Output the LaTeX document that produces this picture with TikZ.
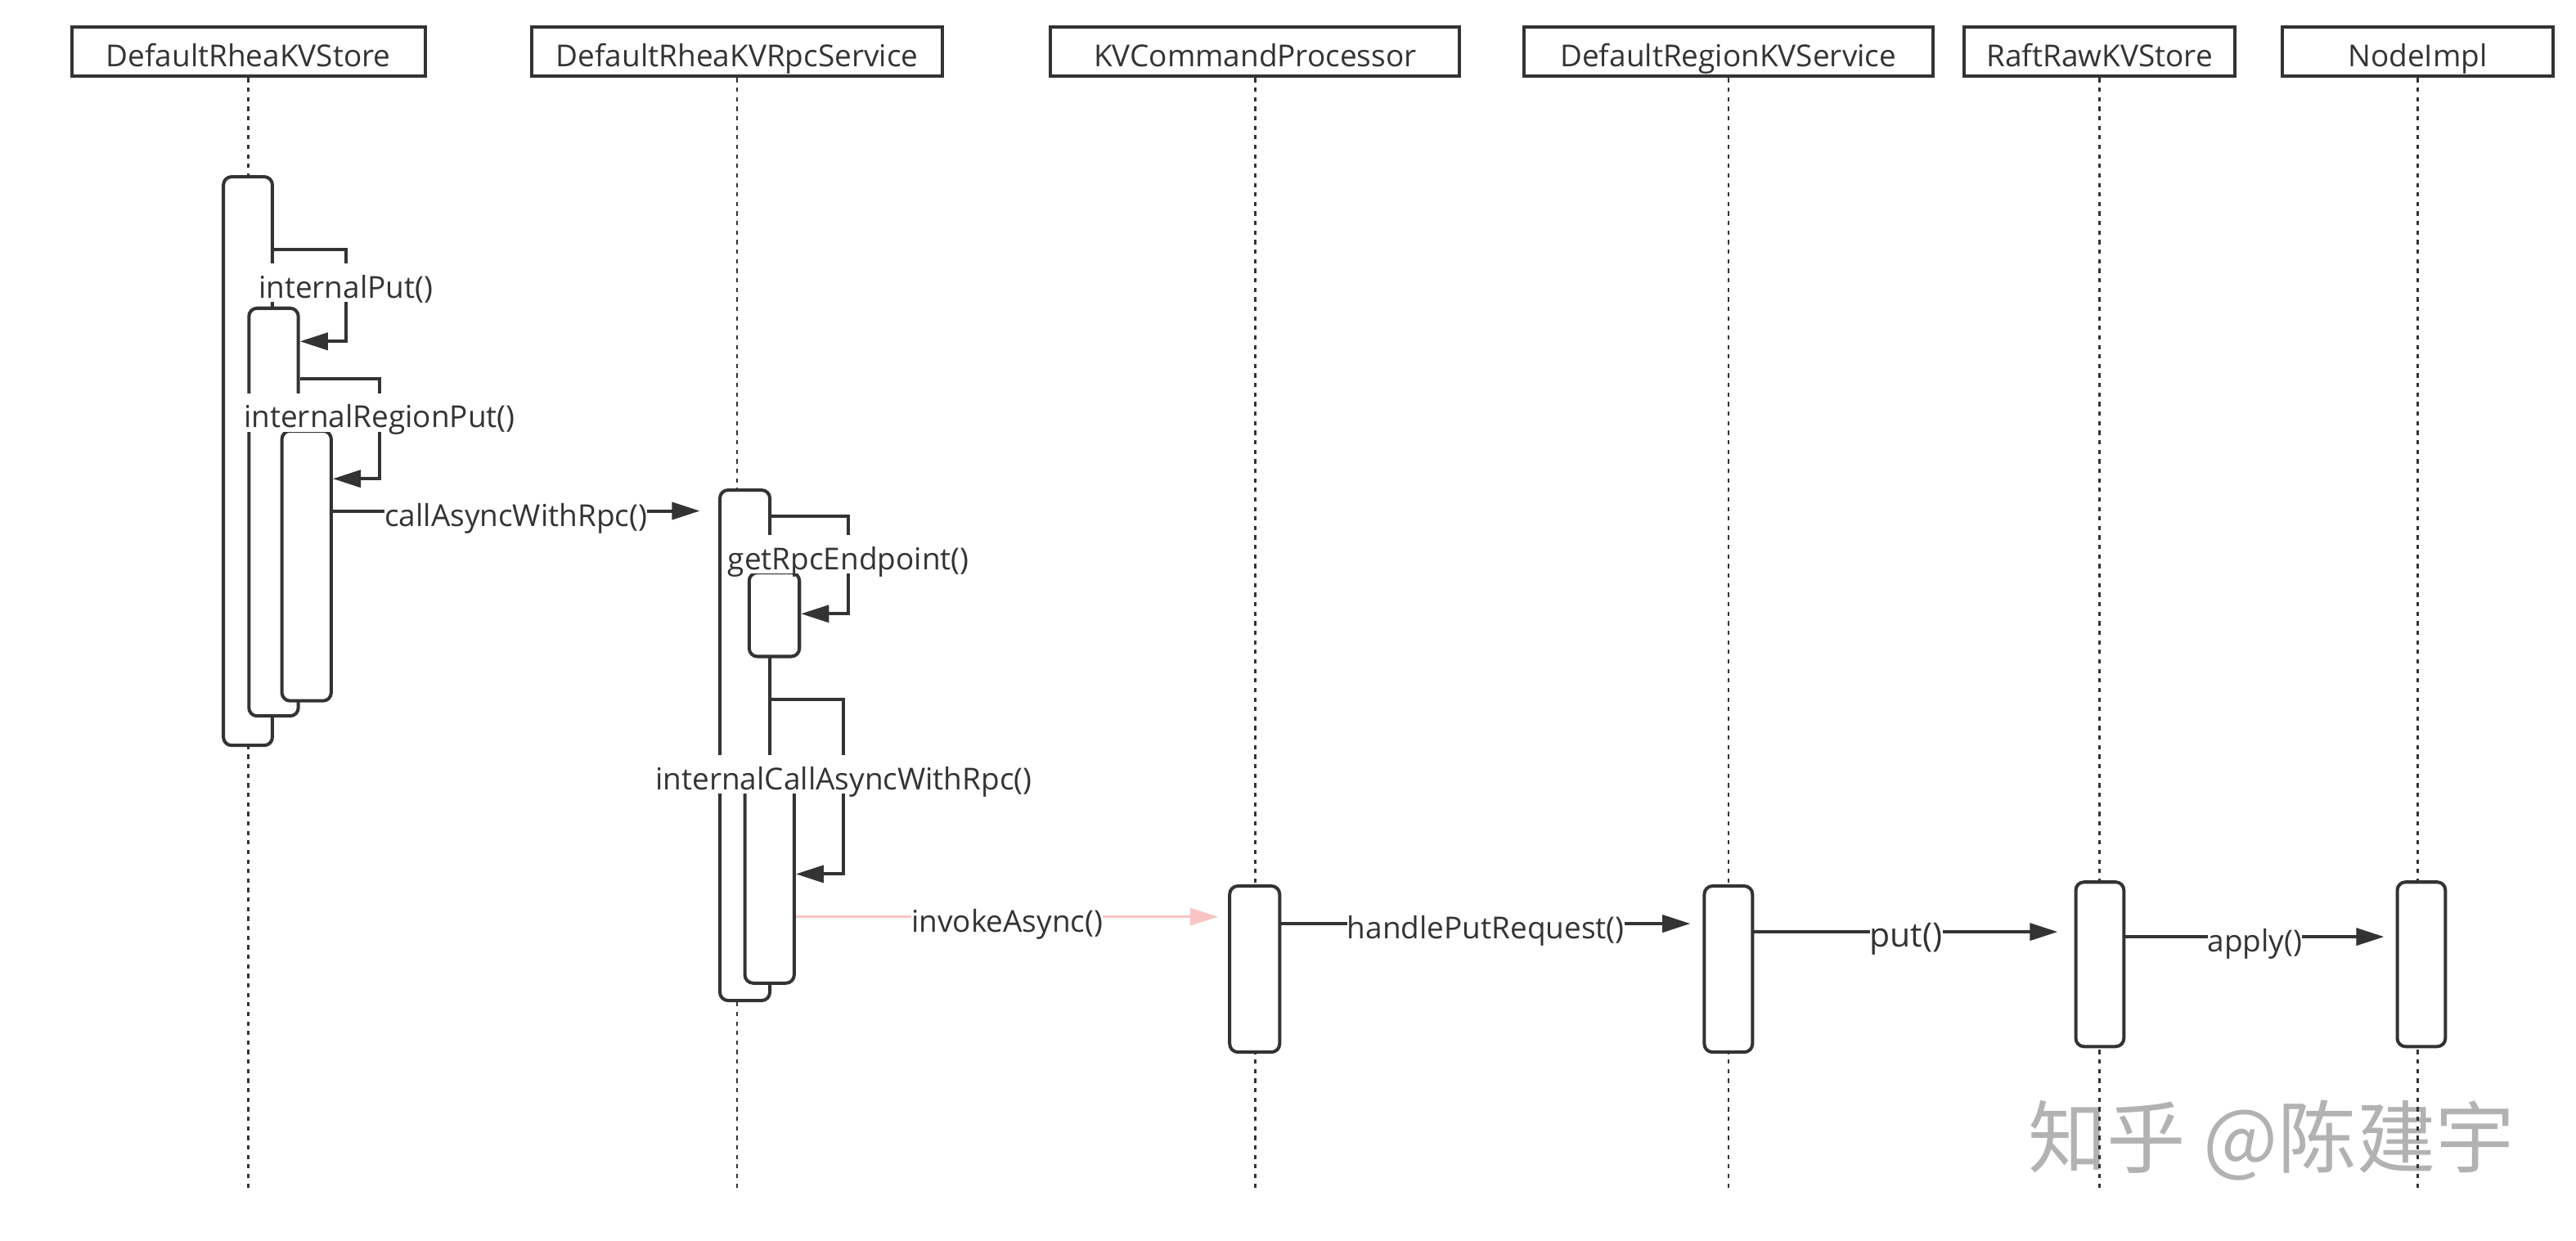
\documentclass[tikz,border=0pt]{standalone}
\usepackage{fontspec}
\setmainfont{Open Sans}
\newfontfamily\cjkfont{Noto Sans CJK SC}
\usetikzlibrary{arrows.meta, calc, positioning, fit}
\definecolor{seqline}{RGB}{51,51,51}
\definecolor{seqpink}{RGB}{248,196,196}
\definecolor{seqmark}{RGB}{178,178,178}

\tikzset{
    head/.style={draw=seqline, line width=1pt, fill=white, minimum width=#1, minimum height=15pt, inner sep=0pt, font=\fontsize{9.2}{10}\selectfont, text=seqline, text height=0.95em, text depth=0.05em},
    life/.style={seqline, line width=0.6pt, dash pattern=on 1.3pt off 1.6pt},
    actbar/.style={draw=seqline, line width=1pt, fill=white, rounded corners=2.5pt, inner sep=0pt},
    msg/.style={seqline, line width=1pt, -{Triangle[length=8.5pt,width=5.2pt]}},
    lbl/.style={fill=white, inner sep=0pt, font=\fontsize{9.2}{10}\selectfont, text=seqline, text height=1.05em, text depth=0.12em},
}

\begin{document}
\begin{tikzpicture}[x=0.5pt, y=-0.5pt]
        \useasboundingbox (0,0) rectangle (1568,755.35);

        \node[text=seqmark, font=\cjkfont\fontsize{24}{25}\selectfont] (Wm) at (1382.5,694) {知乎 @陈建宇};

        \node[head=107.5pt] (H1) at (151.2,31.5) {DefaultRheaKVStore};
        \node[head=125pt] (H2) at (448.7,31.5) {DefaultRheaKVRpcService};
        \node[head=124.5pt] (H3) at (764,31.5) {KVCommandProcessor};
        \node[head=124.5pt] (H4) at (1052,31.5) {DefaultRegionKVService};
        \node[head=82.5pt] (H5) at (1278,31.5) {RaftRawKVStore};
        \node[head=82.5pt] (H6) at (1471.6,31.5) {NodeImpl};

        \draw [life] (H1.south) -- (H1.south |- 0,725.5);
        \draw [life] (H2.south) -- (H2.south |- 0,725.5);
        \draw [life] (H3.south) -- (H3.south |- 0,725.5);
        \draw [life] (H4.south) -- (H4.south |- 0,725.5);
        \draw [life] (H5.south) -- (H5.south |- 0,725.5);
        \draw [life] (H6.south) -- (H6.south |- 0,725.5);

        \node[actbar, fit={(136,107.6) (165.8,453.7)}] (A1) {};
        \node[actbar, fit={(151.5,187.6) (181.6,435.8)}] (A2) {};
        \node[actbar, fit={(171.6,262.3) (201.6,426.6)}] (A3) {};
        \node[actbar, fit={(438.2,298.3) (468.6,609)}] (B1) {};
        \node[actbar, fit={(456,348.6) (486.6,399.6)}] (B2) {};
        \node[actbar, fit={(453.4,470) (483.4,598.4)}] (B3) {};
        \node[actbar, fit={(748.5,539.3) (778.9,640.4)}] (C1) {};
        \node[actbar, fit={(1037.4,539.3) (1066.7,640.4)}] (D1) {};
        \node[actbar, fit={(1263.5,536.9) (1292.8,637)}] (E1) {};
        \node[actbar, fit={(1459.2,536.9) (1488.5,637)}] (F1) {};

        \draw [msg] (A1.east |- 0,152) -| (210.5,172.2) node[lbl] (Mput) {internalPut()} |- (A2.east |- 0,207.8);
        \draw [msg] (A2.east |- 0,230.7) -| (231,251) node[lbl] (Mregion) {internalRegionPut()} |- (A3.east |- 0,291.4);
        \draw [msg, shorten >=5.6pt] (A3.east |- 0,311) -- node[lbl, pos=0.475] (Mrpc) {callAsyncWithRpc()} (B1.west |- 0,311);
        \draw [msg] (B1.east |- 0,314) -| (516.5,337.5) node[lbl] (Mendpoint) {getRpcEndpoint()} |- (B2.east |- 0,373.6);
        \draw [msg] (B1.east |- 0,425.5) -| (513.6,471.3) node[lbl] (Minternal) {internalCallAsyncWithRpc()} |- (B3.east |- 0,532);
        \draw [msg, seqpink, line width=0.7pt, shorten >=3pt] (B3.east |- 0,558) -- node[lbl, pos=0.489] (Minvoke) {invokeAsync()} (C1.west |- 0,558);
        \draw [msg, shorten >=3.75pt] (C1.east |- 0,562.2) -- node[lbl, pos=0.4855] (Mhandle) {handlePutRequest()} (D1.west |- 0,562.2);
        \draw [msg, shorten >=5pt] (D1.east |- 0,567.2) -- node[lbl, pos=0.475, font=\fontsize{10.2}{11}\selectfont] (Mraftput) {put()} (E1.west |- 0,567.2);
        \draw [msg, shorten >=3.5pt] (E1.east |- 0,570.2) -- node[lbl, pos=0.479] (Mapply) {apply()} (F1.west |- 0,570.2);

    \end{tikzpicture}
\end{document}
